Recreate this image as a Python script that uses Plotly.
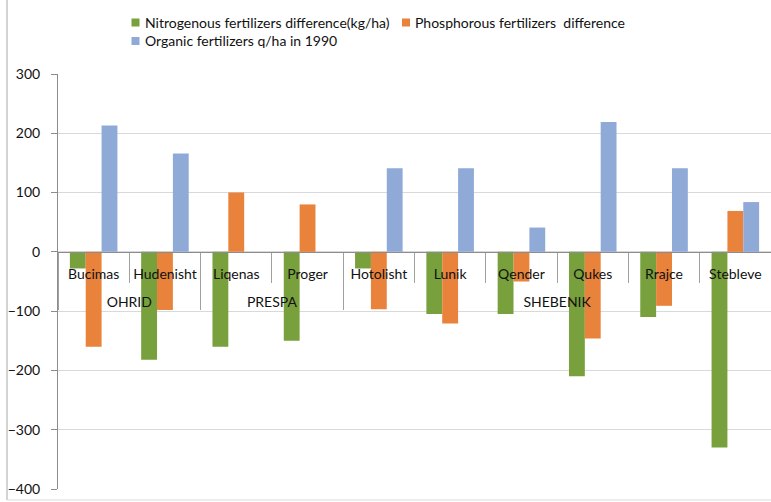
import plotly.graph_objects as go

# --- Data -------------------------------------------------------------------
regions = ["OHRID", "OHRID", "PRESPA", "PRESPA", "SHEBENIK", "SHEBENIK",
           "SHEBENIK", "SHEBENIK", "SHEBENIK", "SHEBENIK"]
villages = ["Bucimas", "Hudenisht", "Liqenas", "Proger", "Hotolisht", "Lunik",
            "Qender", "Qukes", "Rrajce", "Stebleve"]
nitrogen = [-28, -182, -160, -150, -28, -105, -105, -210, -110, -330]
phosphorous = [-160, -98, 100, 80, -97, -121, -50, -146, -91, 69]
organic = [213, 166, None, None, 141, 141, 41, 219, 141, 84]

series_names = ["Nitrogenous fertilizers difference(kg/ha)",
                "Phosphorous fertilizers  difference",
                "Organic fertilizers q/ha in 1990"]
colors = ["#78A03C", "#E9823A", "#90AAD8"]

y_ticks = [300, 200, 100, 0, -100, -200, -300, -400]

# --- Layout helpers (pixel -> paper) ----------------------------------------
W, H = 771, 502
L, R, T, B = 58, 0, 74, 13
PW, PH = W - L - R, H - T - B


def px(x):
    return (x - L) / PW


def py(y):
    return (H - B - y) / PH


FONT = "Lato, 'Open Sans', sans-serif"

fig = go.Figure()
for name, vals, col in zip(series_names, [nitrogen, phosphorous, organic], colors):
    # the trailing blank line pushes the region labels down a row
    fig.add_trace(go.Bar(x=[regions, [v + "<br>\u00a0" for v in villages]], y=vals,
                         name=name, marker=dict(color=col, line=dict(width=0)),
                         hovertext=villages))

fig.update_layout(
    width=W, height=H,
    margin=dict(l=L, r=R, t=T, b=B),
    paper_bgcolor="white", plot_bgcolor="white",
    barmode="group", bargap=0.333, bargroupgap=0,
    showlegend=False,
    font=dict(family=FONT, size=14, color="#111111"),
)

fig.update_yaxes(
    range=[-400, 300], tickvals=y_ticks, showgrid=True, gridcolor="#D9D9D9",
    gridwidth=1, zeroline=False, showline=True, linecolor="#8C8C8C",
    ticks="outside", ticklen=6, tickcolor="#8C8C8C", ticklabelstandoff=8,
    tickfont=dict(size=14, color="#111111"), automargin=False,
)

fig.update_xaxes(
    type="multicategory", anchor="free", position=400 / 700,
    showline=True, linecolor="#8C8C8C", showgrid=False,
    ticks="outside", ticklen=30, tickcolor="#A0A0A0", tickangle=0,
    showdividers=True, dividercolor="#A0A0A0", dividerwidth=1,
    ticklabelstandoff=9, tickfont=dict(size=14, color="#111111"),
    automargin=False,
)

# chart frame (left and bottom edges of the cropped Excel chart)
fig.add_shape(type="line", xref="paper", yref="paper",
              x0=px(7), x1=px(7), y0=py(0), y1=py(500),
              line=dict(color="#A8A8A8", width=1))
fig.add_shape(type="line", xref="paper", yref="paper",
              x0=px(7), x1=px(W), y0=py(500), y1=py(500),
              line=dict(color="#DADADA", width=1))

# legend drawn by hand: two entries on the first row, one on the second
legend_pos = [(135.5, 22.5), (406, 22.5), (135.5, 41)]
for name, col, (cx, cy) in zip(series_names, colors, legend_pos):
    fig.add_shape(type="rect", xref="paper", yref="paper",
                  x0=px(cx - 4), x1=px(cx + 4), y0=py(cy - 4), y1=py(cy + 4),
                  fillcolor=col, line=dict(width=0))
    fig.add_annotation(text=name, xref="paper", yref="paper",
                       x=px(cx + 7), y=py(cy), xanchor="left", yanchor="middle",
                       showarrow=False, font=dict(family=FONT, size=14, color="#111111"))

# the page's default 8px body margin would shift the chart; remove it
fig.write_html("out.html", config={"displayModeBar": False},
               post_script="document.body.style.margin='0px';")
